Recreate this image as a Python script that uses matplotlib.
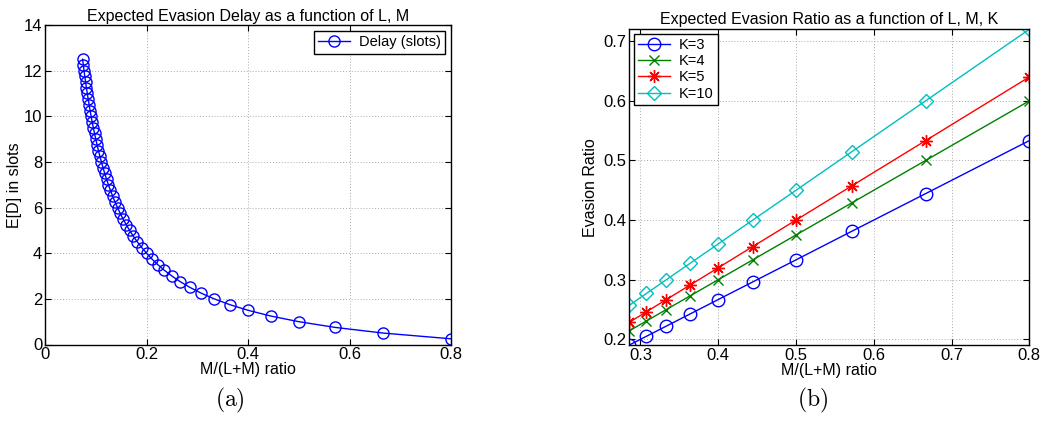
import matplotlib
matplotlib.use("Agg")
import matplotlib.pyplot as plt

plt.rcParams['font.family'] = ['Liberation Sans', 'DejaVu Sans']
plt.rcParams['mathtext.fontset'] = 'cm'

# ---- (a) expected evasion delay ----
ratio_a = [0.8, 0.6667, 0.5714, 0.5, 0.4444, 0.4, 0.3636, 0.3333, 0.3077, 0.2857,
           0.2667, 0.25, 0.2353, 0.2222, 0.2105, 0.2, 0.1905, 0.1818, 0.1739, 0.1667,
           0.16, 0.1538, 0.1481, 0.1429, 0.1379, 0.1333, 0.129, 0.125, 0.1212, 0.1176,
           0.1143, 0.1111, 0.1081, 0.1053, 0.1026, 0.1, 0.0976, 0.0952, 0.093, 0.0909,
           0.0889, 0.087, 0.0851, 0.0833, 0.0816, 0.08, 0.0784, 0.0769, 0.0755, 0.0741]
delay = [0.25, 0.5, 0.75, 1.0, 1.25, 1.5, 1.75, 2.0, 2.25, 2.5,
         2.75, 3.0, 3.25, 3.5, 3.75, 4.0, 4.25, 4.5, 4.75, 5.0,
         5.25, 5.5, 5.75, 6.0, 6.25, 6.5, 6.75, 7.0, 7.25, 7.5,
         7.75, 8.0, 8.25, 8.5, 8.75, 9.0, 9.25, 9.5, 9.75, 10.0,
         10.25, 10.5, 10.75, 11.0, 11.25, 11.5, 11.75, 12.0, 12.25, 12.5]

# ---- (b) expected evasion ratio ----
ratio_b = [0.2857, 0.3077, 0.3333, 0.3636, 0.4, 0.4444, 0.5, 0.5714, 0.6667, 0.8]
evasion_k3 = [0.1905, 0.2051, 0.2222, 0.2424, 0.2667, 0.2963, 0.3333, 0.381, 0.4444, 0.5333]
evasion_k4 = [0.2143, 0.2308, 0.25, 0.2727, 0.3, 0.3333, 0.375, 0.4286, 0.5, 0.6]
evasion_k5 = [0.2286, 0.2462, 0.2667, 0.2909, 0.32, 0.3556, 0.4, 0.4571, 0.5333, 0.64]
evasion_k10 = [0.2571, 0.2769, 0.3, 0.3273, 0.36, 0.4, 0.45, 0.5143, 0.6, 0.72]

delay_ticks_x = [0, 0.2, 0.4, 0.6, 0.8]
delay_ticks_y = [0, 2, 4, 6, 8, 10, 12, 14]
evasion_ticks_x = [0.3, 0.4, 0.5, 0.6, 0.7, 0.8]
evasion_ticks_y = [0.2, 0.3, 0.4, 0.5, 0.6, 0.7]


def style_axes(ax):
    ax.tick_params(direction='in', top=True, right=True, labelsize=12,
                   length=4, width=0.8, pad=2)
    ax.grid(True, linestyle=(0, (1, 2)), color='#aaaaaa', linewidth=0.7)
    for s in ax.spines.values():
        s.set_linewidth(1.0)


fig = plt.figure(figsize=(10.44, 4.26), dpi=100)

ax1 = fig.add_axes([45 / 1044, 1 - 344.5 / 426, 406 / 1044, 319.5 / 426])
ax1.plot(ratio_a, delay, color='blue', marker='o', markerfacecolor='none',
         markersize=8, linewidth=1.0, label='Delay (slots)')
ax1.set_xlim(0, 0.8)
ax1.set_ylim(0, 14)
ax1.set_xticks(delay_ticks_x)
ax1.set_xticklabels(['0', '0.2', '0.4', '0.6', '0.8'])
ax1.set_yticks(delay_ticks_y)
style_axes(ax1)
ax1.set_xlabel('M/(L+M) ratio', fontsize=11.5, labelpad=0)
ax1.set_ylabel('E[D] in slots', fontsize=11.5, labelpad=1)
ax1.set_title('Expected Evasion Delay as a function of L, M', fontsize=11.5, pad=3)
leg1 = ax1.legend(loc='upper right', fontsize=10.5, fancybox=False, edgecolor='black',
                  framealpha=1, borderaxespad=0.4, handlelength=2.2,
                  borderpad=0.3, handletextpad=0.6)
leg1.get_frame().set_linewidth(1.0)

ax2 = fig.add_axes([629.3 / 1044, 1 - 345 / 426, 400 / 1044, 315.7 / 426])
ax2.plot(ratio_b, evasion_k3, color='blue', marker='o', markerfacecolor='none',
         markersize=9, linewidth=1.0, label='K=3')
ax2.plot(ratio_b, evasion_k4, color='green', marker='x', markersize=6.5,
         linewidth=1.0, label='K=4')
ax2.plot(ratio_b, evasion_k5, color='red', marker=(8, 2, 0), markersize=9,
         linewidth=1.0, label='K=5')
ax2.plot(ratio_b, evasion_k10, color='#00bfbf', marker='D', markerfacecolor='none',
         markersize=7, linewidth=1.0, label='K=10')
ax2.set_xlim(ratio_b[0], ratio_b[-1])
ax2.set_ylim(evasion_k3[0], evasion_k10[-1])
ax2.set_xticks(evasion_ticks_x)
ax2.set_yticks(evasion_ticks_y)
style_axes(ax2)
ax2.set_xlabel('M/(L+M) ratio', fontsize=11.5, labelpad=0)
ax2.set_ylabel('Evasion Ratio', fontsize=11.5, labelpad=4)
ax2.set_title('Expected Evasion Ratio as a function of L, M, K', fontsize=11.5, pad=4)
leg2 = ax2.legend(loc='upper left', fontsize=10.5, fancybox=False, edgecolor='black',
                  framealpha=1, borderaxespad=0.3, handlelength=2.2,
                  borderpad=0.3, handletextpad=0.6, labelspacing=0.15)
leg2.get_frame().set_linewidth(1.0)

fig.text(230 / 1044, 1 - 400 / 426, r'$\mathrm{(a)}$', fontsize=17,
         ha='center', va='center')
fig.text(813 / 1044, 1 - 400 / 426, r'$\mathrm{(b)}$', fontsize=17,
         ha='center', va='center')

fig.savefig('out.png', dpi=100)
